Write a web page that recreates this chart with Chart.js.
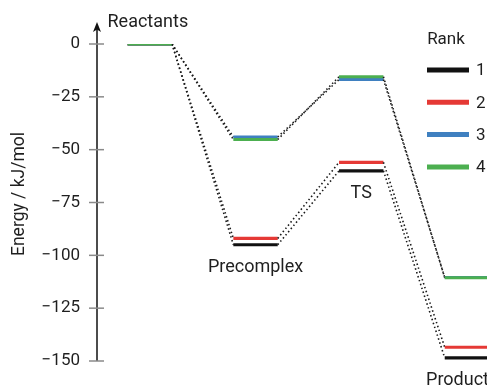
<!DOCTYPE html>
<html>
<head>
<meta charset="utf-8">
<script src="https://cdn.jsdelivr.net/npm/chart.js@4/dist/chart.umd.min.js"></script>
<style>
  html, body { margin: 0; padding: 0; background: #fff; overflow: hidden; }
</style>
</head>
<body>
<canvas id="c" width="487" height="385"></canvas>
<script>
// ---- data ----
const states = ['Reactants', 'Precomplex', 'TS', 'Product'];
const rankLabels = ['1', '2', '3', '4'];
const rank1 = [0, -95, -60, -148.5];
const rank2 = [0, -92, -56, -143.5];
const rank3 = [0, -44, -16.8, -110.5];
const rank4 = [0, -45.2, -15.5, -110.6];
const rankColors = ['#111111', '#e53935', '#3f80c0', '#4caf50'];
const yTicks = [0, -25, -50, -75, -100, -125, -150];
const yTitle = 'Energy / kJ/mol';
const legendTitle = 'Rank';

const HALF = 0.21;
const FONT = 'Roboto, "Noto Sans", sans-serif';
const TEXT = '#1f1f1f';

function levelPoints(vals) {
  const pts = [];
  vals.forEach((v, i) => { pts.push({x: i - HALF, y: v}); pts.push({x: i + HALF, y: v}); });
  return pts;
}
const series = [rank1, rank2, rank3, rank4];
const datasets = series.map((vals, k) => ({
  label: rankLabels[k],
  data: levelPoints(vals),
  borderColor: rankColors[k],
  borderWidth: 3.2,
  pointRadius: 0,
  fill: false,
  order: 4 - k,
  segment: {
    borderColor: ctx => ctx.p0DataIndex % 2 === 1 ? '#1a1a1a' : undefined,
    borderWidth: ctx => ctx.p0DataIndex % 2 === 1 ? 1.6 : undefined,
    borderDash: ctx => ctx.p0DataIndex % 2 === 1 ? [1.5, 2.6] : undefined
  }
}));

const decor = {
  id: 'decor',
  afterDraw(chart) {
    const {ctx, chartArea, scales: {x, y}} = chart;
    const ax = chartArea.left;
    ctx.save();
    // axis line with arrow
    ctx.strokeStyle = '#111';
    ctx.lineWidth = 1.5;
    ctx.beginPath();
    ctx.moveTo(ax, y.getPixelForValue(-150));
    ctx.lineTo(ax, chartArea.top - 18);
    ctx.stroke();
    const tipY = chartArea.top - 22;
    ctx.fillStyle = '#111';
    ctx.beginPath();
    ctx.moveTo(ax, tipY);
    ctx.lineTo(ax - 4, tipY + 10);
    ctx.lineTo(ax, tipY + 7.5);
    ctx.lineTo(ax + 4, tipY + 10);
    ctx.closePath();
    ctx.fill();
    // tick marks crossing axis
    ctx.strokeStyle = '#8a8a8a';
    ctx.lineWidth = 1.5;
    yTicks.forEach(t => {
      const py = y.getPixelForValue(t);
      ctx.beginPath();
      ctx.moveTo(ax - 8, py);
      ctx.lineTo(ax + 7, py);
      ctx.stroke();
    });
    // state labels
    ctx.fillStyle = TEXT;
    ctx.font = '18px ' + FONT;
    ctx.textAlign = 'center';
    ctx.textBaseline = 'middle';
    states.forEach((s, i) => {
      const vals = series.map(a => a[i]);
      const tw = ctx.measureText(s).width;
      const px = Math.min(x.getPixelForValue(i), chart.width - tw / 2 + 2);
      if (i === 0) {
        ctx.fillText(s, px - 2, y.getPixelForValue(Math.max(...vals)) - 22);
      } else {
        ctx.fillText(s, px, y.getPixelForValue(Math.min(...vals)) + 23);
      }
    });
    // y title
    ctx.save();
    ctx.translate(20, 194);
    ctx.rotate(-Math.PI / 2);
    ctx.font = '17.5px ' + FONT;
    ctx.fillText(yTitle, 0, 0);
    ctx.restore();
    // legend
    ctx.font = '17px ' + FONT;
    ctx.textAlign = 'center';
    ctx.fillText(legendTitle, 446, 40);
    ctx.textAlign = 'left';
    rankLabels.forEach((lab, k) => {
      const ly = 70 + k * 32.3;
      ctx.strokeStyle = rankColors[k];
      ctx.lineWidth = 5;
      ctx.beginPath();
      ctx.moveTo(427, ly);
      ctx.lineTo(469, ly);
      ctx.stroke();
      ctx.fillStyle = TEXT;
      ctx.fillText(lab, 476, ly + 1);
    });
    ctx.restore();
  }
};

new Chart(document.getElementById('c'), {
  type: 'line',
  data: { datasets },
  options: {
    responsive: false,
    animation: false,
    events: [],
    layout: { padding: { top: 44, bottom: 24, left: 0, right: 0 } },
    plugins: { legend: { display: false }, tooltip: { enabled: false } },
    scales: {
      x: {
        type: 'linear', min: -0.5, max: 3.19, display: false
      },
      y: {
        type: 'linear', min: -150, max: 0,
        afterFit(scale) { scale.width = 97; },
        grid: { display: true, drawOnChartArea: false, drawTicks: true, tickLength: 17, color: 'rgba(0,0,0,0)' },
        border: { display: false },
        afterBuildTicks(scale) { scale.ticks = yTicks.map(v => ({value: v})); },
        ticks: {
          padding: 0,
          color: TEXT,
          font: { family: FONT, size: 17 },
          callback: v => v < 0 ? '\u2212' + Math.abs(v) : String(v)
        }
      }
    }
  },
  plugins: [decor]
});
</script>
</body>
</html>
